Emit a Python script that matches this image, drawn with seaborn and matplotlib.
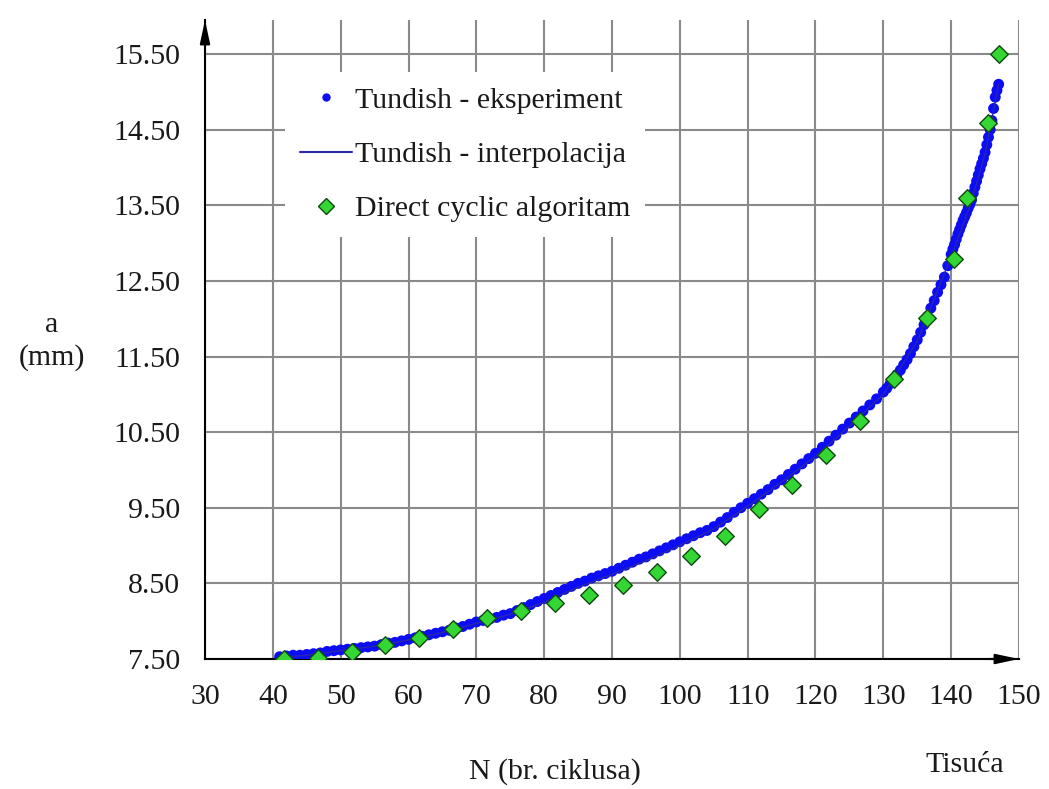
import matplotlib
matplotlib.use("Agg")
import matplotlib.pyplot as plt
import seaborn as sns
import pandas as pd
from matplotlib.lines import Line2D

# Tundish - eksperiment (N in thousands of cycles, a in mm)
exp_n = [41, 42, 43, 44, 45, 46, 47, 48, 49, 50,
         51, 52, 53, 54, 55, 56, 57, 58, 59, 60,
         61, 62, 63, 64, 65, 66, 67, 68, 69, 70,
         71, 72, 73, 74, 75, 76, 77, 78, 79, 80,
         81, 82, 83, 84, 85, 86, 87, 88, 89, 90,
         91, 92, 93, 94, 95, 96, 97, 98, 99, 100,
         101, 102, 103, 104, 105, 106, 107, 108, 109, 110,
         111, 112, 113, 114, 115, 116, 117, 118, 119, 120,
         121, 122, 123, 124, 125, 126, 127, 128, 129, 130,
         130.5, 131, 131.5, 132, 132.5, 133, 133.5, 134, 134.5, 135,
         135.5, 136, 136.5, 137, 137.5, 138, 138.5, 139, 139.5, 140,
         140.25, 140.5, 140.75, 141, 141.25, 141.5, 141.75, 142, 142.25, 142.5,
         142.75, 143, 143.25, 143.5, 143.75, 144, 144.25, 144.5, 144.75, 145,
         145.25, 145.5, 145.75, 146, 146.25, 146.5, 146.75, 147]
exp_a = [7.53, 7.54, 7.55, 7.55, 7.56, 7.57, 7.58, 7.60, 7.61, 7.62,
         7.63, 7.64, 7.65, 7.66, 7.67, 7.69, 7.71, 7.72, 7.74, 7.76,
         7.78, 7.80, 7.82, 7.84, 7.86, 7.88, 7.91, 7.93, 7.96, 7.99,
         8.01, 8.03, 8.05, 8.08, 8.10, 8.14, 8.18, 8.22, 8.26, 8.30,
         8.34, 8.38, 8.42, 8.46, 8.50, 8.53, 8.57, 8.60, 8.63, 8.66,
         8.70, 8.74, 8.78, 8.82, 8.85, 8.89, 8.93, 8.97, 9.01, 9.05,
         9.09, 9.13, 9.17, 9.20, 9.25, 9.31, 9.37, 9.44, 9.50, 9.56,
         9.62, 9.68, 9.74, 9.81, 9.87, 9.94, 10.01, 10.08, 10.15, 10.22,
         10.30, 10.38, 10.46, 10.54, 10.62, 10.70, 10.78, 10.86, 10.94, 11.03,
         11.08, 11.14, 11.20, 11.26, 11.32, 11.39, 11.46, 11.54, 11.63, 11.72,
         11.82, 11.92, 12.03, 12.14, 12.24, 12.35, 12.45, 12.55, 12.70, 12.85,
         12.92, 12.98, 13.05, 13.12, 13.18, 13.24, 13.30, 13.35, 13.40, 13.46,
         13.51, 13.57, 13.66, 13.74, 13.82, 13.90, 13.98, 14.05, 14.12, 14.20,
         14.30, 14.40, 14.50, 14.62, 14.78, 14.93, 15.02, 15.10]

# Tundish - interpolacija
int_n = [41, 45, 50, 55, 60, 65, 70, 75, 80, 85, 90, 95, 100, 105,
         110, 115, 120, 125, 130, 135, 140, 143, 145, 147]
int_a = [7.52, 7.55, 7.61, 7.67, 7.75, 7.85, 7.97, 8.09, 8.25, 8.45, 8.62, 8.80, 9.00, 9.22,
         9.52, 9.84, 10.18, 10.58, 11.00, 11.70, 12.82, 13.55, 14.18, 15.10]

# Direct cyclic algoritam
dca_n = [41.6, 46.6, 51.6, 56.6, 61.6, 66.6, 71.6, 76.6, 81.6, 86.6, 91.6, 96.6,
         101.6, 106.6, 111.6, 116.6, 121.6, 126.6, 131.6, 136.4, 140.4, 142.4, 145.5, 147.1]
dca_a = [7.50, 7.51, 7.59, 7.69, 7.78, 7.90, 8.04, 8.13, 8.24, 8.35, 8.48, 8.65,
         8.86, 9.13, 9.49, 9.80, 10.20, 10.65, 11.20, 12.01, 12.79, 13.60, 14.59, 15.50]

y_ticks = [7.5, 8.5, 9.5, 10.5, 11.5, 12.5, 13.5, 14.5, 15.5]
x_ticks = [30, 40, 50, 60, 70, 80, 90, 100, 110, 120, 130, 140, 150]

exp_df = pd.DataFrame({"N": exp_n, "a": exp_a})
int_df = pd.DataFrame({"N": int_n, "a": int_a})
dca_df = pd.DataFrame({"N": dca_n, "a": dca_a})

sns.set_style("white")
plt.rcParams["font.family"] = ["Liberation Serif", "DejaVu Serif"]
txt = "#1a1a1a"
fs = 21.5

fig = plt.figure(figsize=(10.49, 7.89), dpi=100)
ax = fig.add_axes([205 / 1049, 1 - 659 / 789, 814 / 1049, 639 / 789])

sns.scatterplot(data=exp_df, x="N", y="a", ax=ax, color="#0c0cf5", s=62,
                edgecolor="none", zorder=3, legend=False)
sns.lineplot(data=int_df, x="N", y="a", ax=ax, color="#2828a8", lw=1.0,
             zorder=4, legend=False)
sns.scatterplot(data=dca_df, x="N", y="a", ax=ax, marker="D", color="#33d633",
                edgecolor="#104a10", linewidth=1.0, s=80, zorder=5, legend=False)

ax.set_xlim(30, 150)
ax.set_ylim(7.5, 15.95)
ax.set_xticks(x_ticks)
ax.set_yticks(y_ticks)
ax.set_yticklabels([f"{v:.2f}" for v in y_ticks])
ax.grid(True, color="#8a8a8a", lw=1.5)
ax.set_axisbelow(True)
for side in ["top", "right"]:
    ax.spines[side].set_visible(False)
for side in ["left", "bottom"]:
    ax.spines[side].set_color("black")
    ax.spines[side].set_linewidth(1.5)
ax.tick_params(axis="both", direction="out", length=8, width=1.5, color="black",
               labelsize=fs, labelcolor=txt, pad=10)
ax.set_xlabel("")
ax.set_ylabel("")

# axis arrows
ax.annotate("", xy=(1.0, 0), xytext=(0.96, 0), xycoords="axes fraction",
            arrowprops=dict(arrowstyle="-|>,head_length=1.4,head_width=0.3",
                            color="black", lw=1.5, shrinkA=0, shrinkB=0),
            annotation_clip=False)
ax.annotate("", xy=(0, 1.0), xytext=(0, 0.96), xycoords="axes fraction",
            arrowprops=dict(arrowstyle="-|>,head_length=1.4,head_width=0.3",
                            color="black", lw=1.5, shrinkA=0, shrinkB=0),
            annotation_clip=False)

handles = [
    Line2D([], [], ls="none", marker="o", color="#0c0cf5", markersize=5),
    Line2D([], [], color="#2828a8", lw=1.5),
    Line2D([], [], ls="none", marker="D", markerfacecolor="#33d633",
           markeredgecolor="#104a10", markersize=8),
]
labels = ["Tundish - eksperiment", "Tundish - interpolacija", "Direct cyclic algoritam"]
leg = ax.legend(handles, labels, loc="upper left", bbox_to_anchor=(0.098, 0.919),
                fontsize=fs, frameon=True, facecolor="white", edgecolor="none",
                framealpha=1, handlelength=1.75, handletextpad=0.1,
                labelspacing=0.92, borderpad=0.5, borderaxespad=0)
for t in leg.get_texts():
    t.set_color(txt)

fig.text(52 / 1049, 1 - 325 / 789, "a", ha="center", va="center", fontsize=fs, color=txt)
fig.text(52 / 1049, 1 - 358 / 789, "(mm)", ha="center", va="center", fontsize=fs, color=txt)
fig.text(555 / 1049, 1 - 772 / 789, "N (br. ciklusa)", ha="center", va="center",
         fontsize=fs, color=txt)
fig.text(965 / 1049, 1 - 765 / 789, "Tisuća", ha="center", va="center",
         fontsize=fs, color=txt)

fig.savefig("out.png", dpi=100)
